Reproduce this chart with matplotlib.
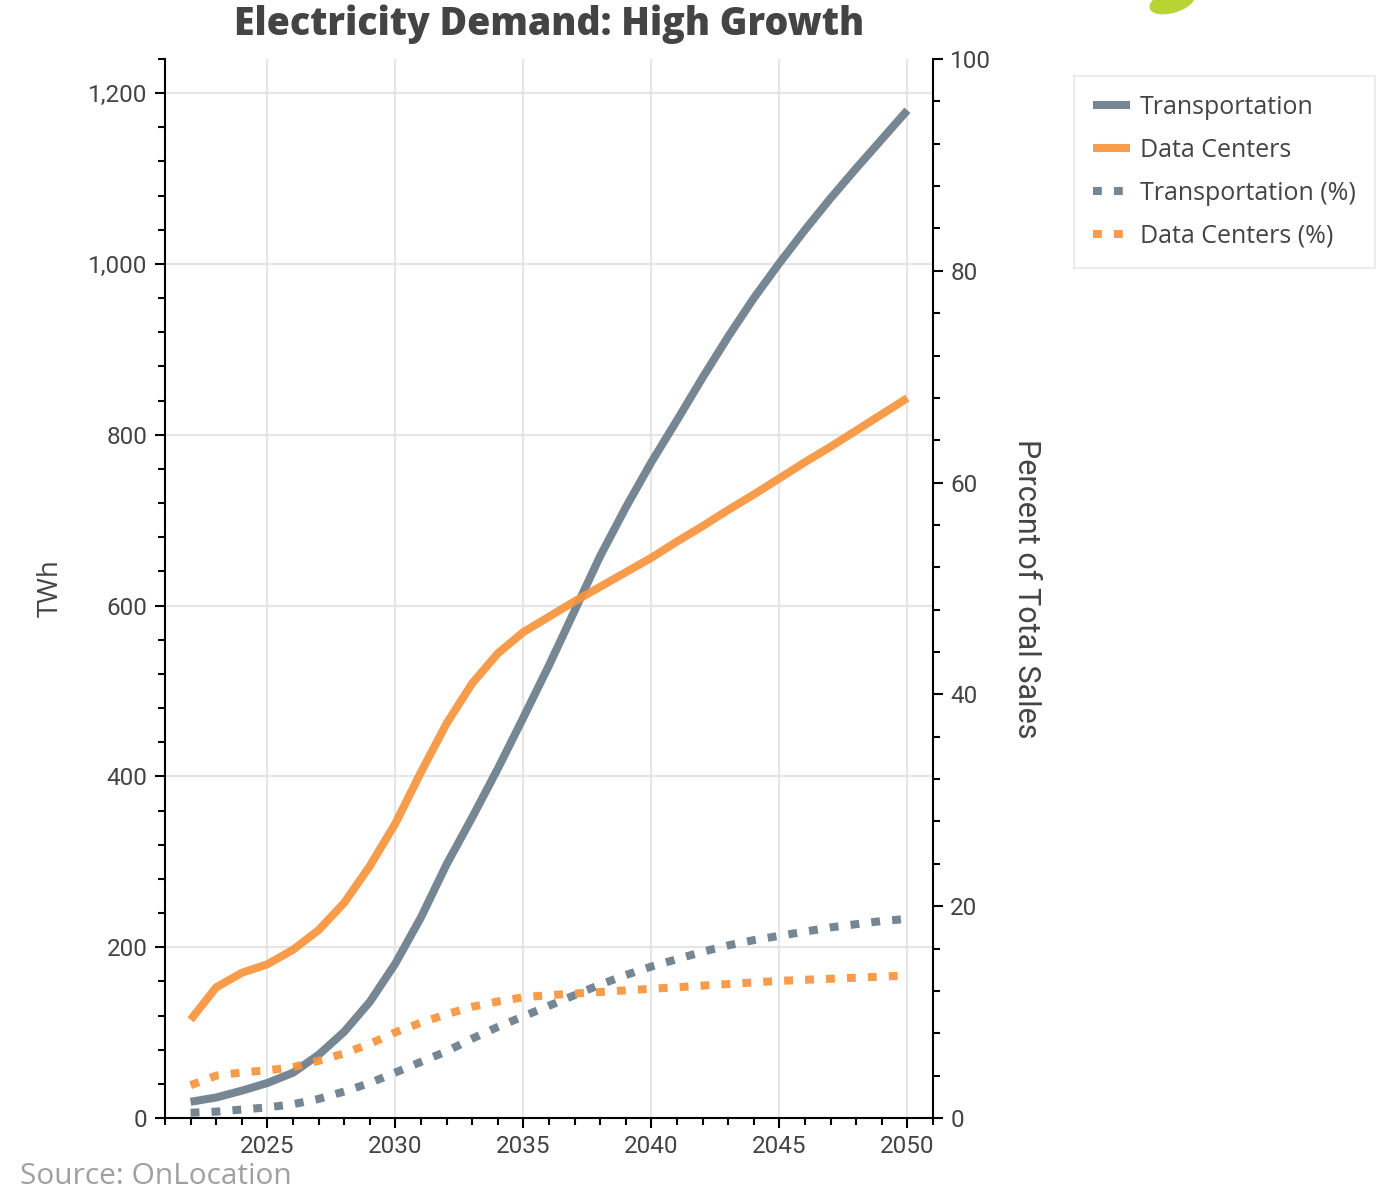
import matplotlib
matplotlib.use("Agg")
import matplotlib.pyplot as plt
from matplotlib.patches import Ellipse
from matplotlib.ticker import MultipleLocator, FuncFormatter

# Annual demand, TWh
years = list(range(2022, 2051))
transport_twh = [19, 24, 32, 41, 53, 74, 101, 136, 181, 235, 297, 352, 409, 469,
                 530, 594, 658, 715, 768, 817, 867, 915, 960, 1001, 1040, 1077,
                 1112, 1146, 1180]
datacenter_twh = [115, 153, 170, 180, 197, 220, 252, 295, 345, 405, 462, 509, 544,
                  569, 587, 605, 622, 639, 656, 675, 693, 712, 730, 749, 768, 786,
                  805, 824, 843]

# Share of total sales, %
transport_pct = [0.5, 0.6, 0.8, 1.0, 1.3, 1.8, 2.5, 3.3, 4.3, 5.3, 6.3, 7.5, 8.6,
                 9.6, 10.6, 11.6, 12.6, 13.5, 14.3, 15.0, 15.7, 16.3, 16.8, 17.2,
                 17.6, 18.0, 18.3, 18.6, 18.8]
datacenter_pct = [3.1, 4.0, 4.3, 4.5, 4.8, 5.4, 6.1, 7.0, 8.1, 9.0, 9.8, 10.5, 11.0,
                  11.4, 11.6, 11.75, 11.9, 12.05, 12.2, 12.35, 12.5, 12.65, 12.8,
                  12.95, 13.05, 13.15, 13.25, 13.35, 13.45]

GRAY = "#6a7d8a"
ORANGE = "#f7943c"
TEXT = "#444444"

plt.rcParams["font.family"] = ["Roboto", "DejaVu Sans"]

fig = plt.figure(figsize=(13.85, 11.91), dpi=100)
ax = fig.add_axes([165 / 1385, 1 - 1118 / 1191, 768 / 1385, 1059 / 1191])
ax2 = ax.twinx()

lw = 5.8
ax.plot(years, transport_twh, color=GRAY, lw=lw, alpha=0.92, label="Transportation",
        solid_capstyle="butt")
ax.plot(years, datacenter_twh, color=ORANGE, lw=lw, alpha=0.92, label="Data Centers",
        solid_capstyle="butt")
ax2.plot(years, transport_pct, color=GRAY, lw=lw, alpha=0.92, linestyle=(0, (1.1, 1.5)),
         dash_capstyle="butt", label="Transportation (%)")
ax2.plot(years, datacenter_pct, color=ORANGE, lw=lw, alpha=0.92, linestyle=(0, (1.1, 1.5)),
         dash_capstyle="butt", label="Data Centers (%)")

ax.set_xlim(2021, 2051)
ax.set_ylim(0, 1240)
ax2.set_ylim(0, 100)

ax.xaxis.set_major_locator(MultipleLocator(5))
ax.xaxis.set_minor_locator(MultipleLocator(1))
ax.yaxis.set_major_locator(MultipleLocator(200))
ax.yaxis.set_minor_locator(MultipleLocator(40))
ax.yaxis.set_major_formatter(FuncFormatter(lambda v, p: f"{int(v):,}"))
ax2.yaxis.set_major_locator(MultipleLocator(20))
ax2.yaxis.set_minor_locator(MultipleLocator(4))

ax.grid(True, which="major", color="#e6e6e6", lw=1.6)
ax.set_axisbelow(True)

for a in (ax, ax2):
    a.spines["top"].set_visible(False)
    a.tick_params(which="major", direction="out", length=7.5, width=1.5, colors="black",
                  labelcolor=TEXT, labelsize=17.5, pad=5)
    a.tick_params(which="minor", direction="out", length=5, width=1.5, colors="black")
ax.spines["right"].set_visible(False)
ax2.spines["left"].set_visible(False)
ax2.spines["bottom"].set_visible(False)
for s in ("left", "bottom"):
    ax.spines[s].set_linewidth(1.5)
ax2.spines["right"].set_linewidth(1.5)

ax.set_ylabel("TWh", fontsize=20, color=TEXT, family="Open Sans", labelpad=17)
ax2.set_ylabel("Percent of Total Sales", fontsize=22, color=TEXT, family="Roboto",
               rotation=270, labelpad=36)

fig.text(549 / 1385, 1 - 24 / 1191, "Electricity Demand: High Growth", ha="center",
         va="center", fontsize=27, fontweight=800, color=TEXT, family="Open Sans")
fig.text(20 / 1385, 1 - 1176 / 1191, "Source: OnLocation", ha="left", va="center",
         fontsize=21.5, color="#a0a0a0", family="Open Sans")

# partial logo leaf peeking in at the top
leaf = Ellipse((1172 / 1385, 1 - 2 / 1191), 0.033, 0.017, angle=20,
               transform=fig.transFigure, color="#b7d433", clip_on=False)
fig.patches.append(leaf)

handles = ax.get_lines() + ax2.get_lines()
leg = fig.legend(handles, [h.get_label() for h in handles], loc="upper left",
                 bbox_to_anchor=(1074 / 1385, 1 - 76 / 1191), borderaxespad=0,
                 frameon=True, fancybox=False, edgecolor="#ebebeb", framealpha=1,
                 handlelength=1.5, handletextpad=0.4, labelspacing=0.72,
                 borderpad=0.75, prop={"family": "Open Sans", "size": 18})
leg.get_frame().set_linewidth(1.5)
for t in leg.get_texts():
    t.set_color(TEXT)

fig.savefig("out.png", dpi=100)
